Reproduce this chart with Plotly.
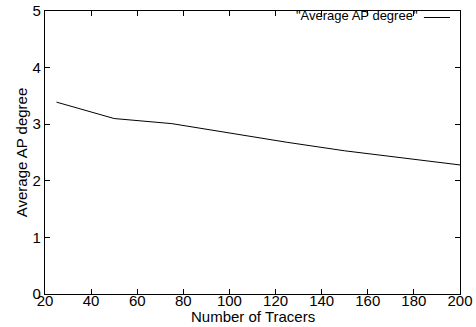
import plotly.graph_objects as go

tracers = [25, 50, 75, 100, 125, 150, 175, 200]
avg_ap_degree = [3.39, 3.10, 3.01, 2.84, 2.68, 2.53, 2.40, 2.28]
x_ticks = [20, 40, 60, 80, 100, 120, 140, 160, 180, 200]
y_ticks = [0, 1, 2, 3, 4, 5]
series_name = '"Average AP degree"'
x_title = "Number of Tracers"
y_title = "Average AP degree"

FONT = "Liberation Sans, Arial, sans-serif"

fig = go.Figure()
fig.add_trace(go.Scatter(x=tracers, y=avg_ap_degree, mode="lines",
                         line=dict(color="black", width=1), name=series_name,
                         showlegend=False))

axis_common = dict(showline=True, linecolor="black", linewidth=1.3, mirror="ticks",
                   ticks="inside", ticklen=5, tickwidth=1, tickcolor="black",
                   showgrid=False, zeroline=False,
                   tickfont=dict(family=FONT, size=15, color="black"))

fig.update_xaxes(range=[20, 200], tickvals=x_ticks, ticklabelstandoff=-7, **axis_common)
fig.update_yaxes(range=[0, 5], tickvals=y_ticks, ticklabelstandoff=0,
                 title=dict(text=y_title, standoff=1,
                            font=dict(family=FONT, size=15, color="black")),
                 **axis_common)

# x-axis title placed close under the tick labels, as in the gnuplot original
fig.add_annotation(x=0.5, y=-0.079, xref="paper", yref="paper", text=x_title,
                   showarrow=False, xanchor="center", yanchor="middle",
                   font=dict(family=FONT, size=15, color="black"))

# gnuplot-style key: text then line sample, top right inside plot
fig.add_annotation(x=0.904, y=0.984, xref="paper", yref="paper", text=series_name,
                   showarrow=False, xanchor="right", yanchor="middle",
                   font=dict(family=FONT, size=13, color="black"))
fig.add_shape(type="line", xref="paper", yref="paper", x0=0.913, x1=0.976,
              y0=0.977, y1=0.977, line=dict(color="black", width=1))

fig.update_layout(width=476, height=327, margin=dict(l=45, r=16, t=11, b=33, autoexpand=False),
                  plot_bgcolor="white", paper_bgcolor="white",
                  font=dict(family=FONT, size=15, color="black"))
fig.write_html("out.html")
